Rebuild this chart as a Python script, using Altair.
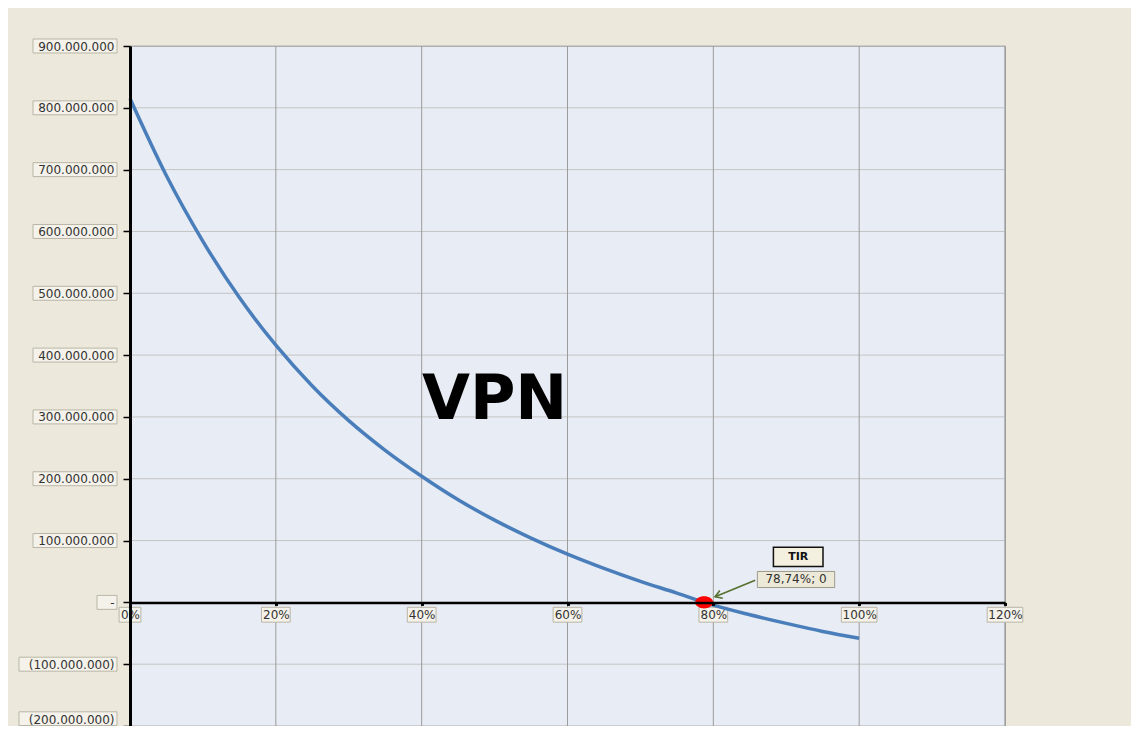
import altair as alt
import pandas as pd

# ---- data ----
rates = [0.0, 0.05, 0.10, 0.15, 0.20, 0.25, 0.30, 0.35, 0.40, 0.45, 0.50,
         0.55, 0.60, 0.65, 0.70, 0.75, 0.7874, 0.80, 0.85, 0.90, 0.95, 1.00]
npv_millions = [815, 690, 584, 493, 416, 350, 294, 246, 204, 166, 133,
                104, 78, 55, 34, 15, 0, -4.5, -20, -34, -47, -58]

x_ticks = [0.0, 0.2, 0.4, 0.6, 0.8, 1.0, 1.2]
y_ticks = [-200e6, -100e6, 0, 100e6, 200e6, 300e6, 400e6, 500e6, 600e6, 700e6, 800e6, 900e6]

irr_rate = [0.7874]
irr_value = [0]
irr_label = ["78,74%; 0"]
tir_title = ["TIR"]
chart_title = ["VPN"]

W, H = 875, 680
BLACK = "#000000"
FONT = "DejaVu Sans"

xs = alt.Scale(domain=[0, 1.2], nice=False, zero=False)
ys = alt.Scale(domain=[-200e6, 900e6], nice=False, zero=False)

label_expr = ("datum.value == 0 ? '-' : (datum.value < 0 ? '(' + format(-datum.value, ',d') + ')'"
              " : format(datum.value, ',d'))")

X_AX = alt.Axis(values=x_ticks, format=".0%", offset=-123.6, title=None, grid=False, zindex=2,
                domainColor=BLACK, domainWidth=2.5, tickColor=BLACK, tickSize=3, tickWidth=3,
                labelPadding=4, labelFont=FONT, labelFontSize=12, labelColor="#333333",
                labelFlush=False, labelOverlap=False)
Y_AX = alt.Axis(values=y_ticks, labelExpr=label_expr, title=None, grid=False, zindex=2,
                domainColor=BLACK, domainWidth=3, tickColor=BLACK, tickSize=7, tickWidth=1.5,
                labelPadding=9, labelFont=FONT, labelFontSize=12, labelColor="#333333",
                labelBaseline={"condition": {"test": "datum.value == -200000000", "value": "bottom"},
                               "value": "middle"},
                labelFlush=False, labelOverlap=False)


def px(field):
    return alt.X(field, type="quantitative", scale=xs, axis=X_AX)


def py(field):
    return alt.Y(field, type="quantitative", scale=ys, axis=Y_AX)


df = pd.DataFrame({"tasa": rates, "vpn": [v * 1e6 for v in npv_millions]})

# grid
hgrid = alt.Chart(pd.DataFrame({"v": y_ticks})).mark_rule(color="#C4C4C4", strokeWidth=1).encode(
    y=py("v"))
vgrid = alt.Chart(pd.DataFrame({"tasa": x_ticks})).mark_rule(color="#9C9C9C", strokeWidth=1).encode(
    x=px("tasa"))

# y label boxes (three widths: 11-char, 13-char and the '-' label)
ytick_df = pd.DataFrame({"v": y_ticks})
box_style = dict(fill="#F4F2EA", stroke="#B9B5A6", strokeWidth=1)


def ybox_layer(filter_expr, left):
    return alt.Chart(ytick_df).transform_filter(filter_expr).transform_calculate(
        ylo="datum.v == -200000000 ? datum.v + 0.8e6 : datum.v - 11.3e6",
        yhi="datum.v == -200000000 ? datum.v + 23e6 : datum.v + 11.3e6",
    ).mark_rect(**box_style).encode(
        x=alt.value(left), x2=alt.value(-13), y=py("ylo"), y2="yhi:Q")


ybox_pos = ybox_layer("datum.v > 0", -97)
ybox_neg = ybox_layer("datum.v < 0", -111)
ybox_zero = ybox_layer("datum.v == 0", -33)

# x label boxes
xbox = alt.Chart(pd.DataFrame({"t": x_ticks})).transform_calculate(
    lab="format(datum.t, '.0%')"
).transform_calculate(
    hw="(6.9 * length(datum.lab) + 8) / 2 / (875 / 1.2)"
).transform_calculate(
    xl="datum.t - datum.hw", xr="datum.t + datum.hw", ylo="-32e6", yhi="-8e6"
).mark_rect(**box_style).encode(
    x=px("xl"), x2="xr:Q", y=py("ylo"), y2="yhi:Q")

curve = alt.Chart(df).mark_line(color="#4A7EBB", strokeWidth=3.5, interpolate="monotone").encode(
    x=px("tasa"), y=py("vpn"))

irr_df = pd.DataFrame({"tasa": irr_rate, "vpn": irr_value, "lab": irr_label, "tir": tir_title})

dot = alt.Chart(irr_df).mark_point(
    shape="M-1,0A1,0.68 0 1,0 1,0A1,0.68 0 1,0 -1,0Z", size=324, filled=True,
    fill="#FF0000", color="#FF0000", opacity=1, strokeWidth=0
).encode(x=px("tasa"), y=py("vpn"))

# annotation callout placed to the upper right of the IRR point
ann_base = alt.Chart(irr_df).transform_calculate(
    tx="datum.tasa + 0.129", ty="73.5e6",
    tbl="datum.tasa + 0.095", tbr="datum.tasa + 0.163", tblo="58e6", tbhi="89e6",
    lx="datum.tasa + 0.126", ly="37e6",
    lbl="datum.tasa + 0.073", lbr="datum.tasa + 0.179", lblo="24e6", lbhi="50e6",
    ax1="datum.tasa + 0.070", ay1="35.6e6", ax2="datum.tasa + 0.015", ay2="9e6",
)
tir_box = ann_base.mark_rect(fill="#F3F0DF", stroke="#111111", strokeWidth=1.5).encode(
    x=px("tbl"), x2="tbr:Q", y=py("tblo"), y2="tbhi:Q")
tir_text = ann_base.mark_text(font=FONT, fontSize=11, fontWeight="bold", color="#111111").encode(
    x=px("tx"), y=py("ty"), text="tir:N")
lab_box = ann_base.mark_rect(fill="#ECE9D8", stroke="#9E9A8A", strokeWidth=1).encode(
    x=px("lbl"), x2="lbr:Q", y=py("lblo"), y2="lbhi:Q")
lab_text = ann_base.mark_text(font=FONT, fontSize=12, color="#333333").encode(
    x=px("lx"), y=py("ly"), text="lab:N")
arrow = ann_base.mark_rule(color="#55702F", strokeWidth=1.6).encode(
    x=px("ax1"), y=py("ay1"), x2="ax2:Q", y2="ay2:Q")
head = ann_base.mark_point(shape="M-0.55,0.9L0,0L0.55,0.9", size=220, filled=False,
                           color="#55702F", strokeWidth=1.6, angle=249, opacity=1).encode(
    x=px("ax2"), y=py("ay2"))

vpn_text = alt.Chart(pd.DataFrame({"t": chart_title})).transform_calculate(
    x="0.5", y="328e6"
).mark_text(font=FONT, fontSize=62, fontWeight="bold", color=BLACK).encode(
    x=px("x"), y=py("y"), text="t:N")

chart = alt.layer(
    hgrid, vgrid, ybox_pos, ybox_neg, ybox_zero, xbox, curve, dot, arrow, head,
    tir_box, tir_text, lab_box, lab_text, vpn_text
).properties(
    width=W, height=H,
    autosize=alt.AutoSizeParams(type="none"),
    padding={"left": 122, "top": 38, "right": 126, "bottom": 0},
    background="#ECE9DC",
).configure(
    locale={"number": {"decimal": ",", "thousands": ".", "grouping": [3], "currency": ["", ""]}}
).configure_view(fill="#E8ECF4", stroke="#9A9A9A", strokeWidth=1.2)

chart.save("out.html", embed_options={"renderer": "svg", "actions": False})
